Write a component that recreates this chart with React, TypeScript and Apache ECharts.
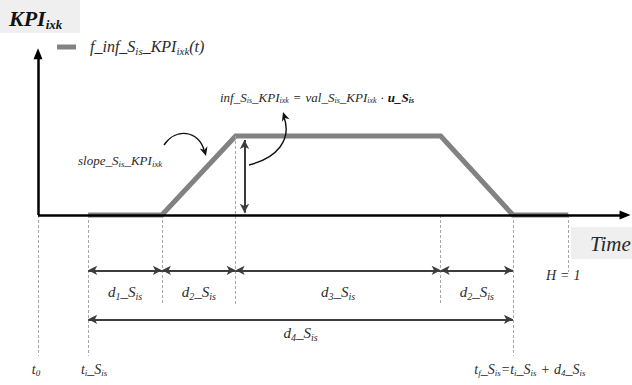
import React, { useEffect, useRef } from "react";
import * as echarts from "echarts";

// ---------- data (time axis in abstract units, KPI influence level) ----------
const T0 = 0;
const T_START = 0.68; // t_i_S_is
const DURATIONS = [1.0, 1.0, 2.78, 0.98]; // d1_S_is, d2_S_is (rise), d3_S_is, d2_S_is (fall)
const DIM_NAMES = ["1", "2", "3", "2"]; // subscripts of the d labels
const HORIZON = 7.19; // H = 1
const INF_VALUE = 1; // inf_S_is_KPI_ixk
const INF_ARROW_X = 2.8;
const X_MAX = 8;
const Y_MIN = -2.1;
const Y_MAX = 2.1;
const DIM_ROW_Y = -0.7;
const D4_ROW_Y = -1.32;
const GUIDE_SHORT = -1.14;
const GUIDE_LONG = -1.78;
const GUIDE_H = -0.72;

const SERIF = "'Liberation Serif', 'DejaVu Serif', serif";
const TXT = "#2a2a2a";
const GRAY = "#828282";

const breaks: number[] = [T_START];
DURATIONS.forEach((d) => breaks.push(breaks[breaks.length - 1] + d));
const levels = [0, 0, INF_VALUE, INF_VALUE, 0];
const profile: number[][] = breaks.map((b, i) => [b, levels[i]]);
profile.push([HORIZON, 0]);

const rich = (size: number, sub = Math.round(size * 0.66)) => ({
  m: { fontSize: size, fontStyle: "italic", fontFamily: SERIF, fill: TXT },
  s: { fontSize: sub, fontStyle: "italic", fontFamily: SERIF, fill: TXT, padding: [Math.round(size * 0.55), 0, 0, 0] },
  eq: { fontSize: size, fontStyle: "italic", fontFamily: SERIF, fill: TXT, padding: [0, 4, 0, 4] },
  b: { fontSize: size, fontStyle: "italic", fontWeight: "bold", fontFamily: SERIF, fill: "#111" },
  bs: { fontSize: sub, fontStyle: "italic", fontWeight: "bold", fontFamily: SERIF, fill: "#111", padding: [Math.round(size * 0.55), 0, 0, 0] },
});

function arrowHead(tip: number[], from: number[], len = 9, half = 4) {
  const dx = tip[0] - from[0];
  const dy = tip[1] - from[1];
  const l = Math.hypot(dx, dy);
  const ux = dx / l;
  const uy = dy / l;
  const bx = tip[0] - ux * len;
  const by = tip[1] - uy * len;
  const nx = tip[0] - ux * len * 0.7;
  const ny = tip[1] - uy * len * 0.7;
  return [
    tip,
    [bx - uy * half, by + ux * half],
    [nx, ny],
    [bx + uy * half, by - ux * half],
  ];
}

export default function App() {
  const ref = useRef<HTMLDivElement>(null);
  useEffect(() => {
    document.body.style.margin = "0";
    const chart = echarts.init(ref.current!, null, { renderer: "svg" });
    const seg = (a: number[], b: number[]) => [{ coord: a }, { coord: b }];

    const guides = [
      seg([T0, 0], [T0, GUIDE_LONG]),
      seg([breaks[0], 0], [breaks[0], GUIDE_LONG]),
      seg([breaks[1], 0], [breaks[1], GUIDE_SHORT]),
      seg([breaks[2], INF_VALUE], [breaks[2], GUIDE_SHORT]),
      seg([breaks[3], 0], [breaks[3], GUIDE_SHORT]),
      seg([breaks[4], 0], [breaks[4], GUIDE_LONG]),
      seg([HORIZON, 0], [HORIZON, GUIDE_H]),
    ];
    const dims = [0, 1, 2, 3].map((i) => seg([breaks[i], DIM_ROW_Y], [breaks[i + 1], DIM_ROW_Y]));
    dims.push(seg([breaks[0], D4_ROW_Y], [breaks[4], D4_ROW_Y]));
    dims.push(seg([INF_ARROW_X, 0.03], [INF_ARROW_X, INF_VALUE * 0.95]));

    chart.setOption({
      animation: false,
      grid: { left: 38, right: 4, top: 49, bottom: 4 },
      xAxis: { type: "value", min: 0, max: X_MAX, show: false },
      yAxis: { type: "value", min: Y_MIN, max: Y_MAX, show: false },
      series: [
        {
          type: "line",
          data: [],
          z: 1,
          markLine: {
            silent: true,
            symbol: ["none", "none"],
            label: { show: false },
            lineStyle: { color: "#a8a8a8", width: 1, type: [3, 2] },
            data: guides,
          },
        },
        {
          type: "line",
          data: [],
          z: 2,
          markLine: {
            silent: true,
            symbol: ["none", "triangle"],
            symbolSize: [9, 11],
            label: { show: false },
            lineStyle: { color: "#000", width: 2.5, type: "solid" },
            data: [seg([T0, 0], [T0, Y_MAX - 0.06]), seg([T0, 0], [X_MAX - 0.04, 0])],
          },
        },
        {
          type: "line",
          data: profile,
          z: 3,
          showSymbol: false,
          symbol: "none",
          lineStyle: { color: GRAY, width: 5, join: "miter" },
          silent: true,
        },
        {
          type: "line",
          data: [],
          z: 4,
          markLine: {
            silent: true,
            symbol: ["arrow", "arrow"],
            symbolSize: [7, 9],
            label: { show: false },
            lineStyle: { color: "#3c3c3c", width: 2, type: "solid" },
            itemStyle: { color: "#111" },
            data: dims,
          },
        },
      ],
    });

    const px = (x: number, y: number) => chart.convertToPixel({ gridIndex: 0 }, [x, y]) as number[];
    const labY = px(0, DIM_ROW_Y)[1] + 22;
    const d4Y = px(0, D4_ROW_Y)[1] + 14;
    const tY = 369;

    const texts: any[] = [];
    const addText = (x: number, y: number, text: string, size: number, align = "center", sub?: number) =>
      texts.push({
        type: "text",
        z: 10,
        style: { x, y, text, rich: rich(size, sub), align, verticalAlign: "middle", fill: TXT },
      });

    DIM_NAMES.forEach((n, i) => {
      const cx = (px(breaks[i], 0)[0] + px(breaks[i + 1], 0)[0]) / 2;
      addText(cx, labY, `{m|d}{s|${n}}{m|_S}{s|is}`, 15);
    });
    addText((px(breaks[0], 0)[0] + px(breaks[4], 0)[0]) / 2, d4Y, "{m|d}{s|4}{m|_S}{s|is}", 15);
    addText(px(HORIZON, 0)[0] - 5, px(0, GUIDE_H)[1] + 4, "{m|H}{eq|=}{m|1}", 14);
    addText(px(T0, 0)[0] - 2, tY, "{m|t}{s|0}", 14);
    addText(px(breaks[0], 0)[0] + 6, tY, "{m|t}{s|i}{m|_S}{s|is}", 14);
    addText(px(breaks[4], 0)[0] + 17, tY, "{m|t}{s|f}{m|_S}{s|is}{m|=t}{s|i}{m|_S}{s|is}{eq|+}{m|d}{s|4}{m|_S}{s|is}", 14);
    addText(220, 97, "{m|inf_S}{s|is}{m|_KPI}{s|ixk}{eq|=}{m|val_S}{s|is}{m|_KPI}{s|ixk}{eq|·}{b|u_S}{bs|is}", 13, "left", 8);
    addText(78, 160, "{m|slope_S}{s|is}{m|_KPI}{s|ixk}", 13, "left", 9);
    addText(90, 46, "{m|f_inf_S}{s|is}{m|_KPI}{s|ixk}{m|(t)}", 16, "left", 11);
    addText(9, 18, "{b|KPI}{bs|ixk}", 22, "left", 13);
    addText(590, 244, "{m|Time}", 21, "left");

    const c1 = { x1: 164, y1: 145, cpx1: 176, cpy1: 127, cpx2: 199, cpy2: 131, x2: 204, y2: 150 };
    const c2 = { x1: 249, y1: 165, cpx1: 277, cpy1: 158, cpx2: 292, cpy2: 140, x2: 284, y2: 117 };

    chart.setOption({
      graphic: [
        { type: "rect", z: 0, shape: { x: 0, y: 0, width: 80, height: 33 }, style: { fill: "#efefef" } },
        { type: "rect", z: 0, shape: { x: 571, y: 227, width: 65, height: 32 }, style: { fill: "#efefef" } },
        { type: "line", z: 5, shape: { x1: 57, y1: 47, x2: 76, y2: 47 }, style: { stroke: GRAY, lineWidth: 5 } },
        { type: "bezierCurve", z: 5, shape: c1, style: { stroke: "#111", lineWidth: 1.4, fill: "none" } },
        { type: "polygon", z: 5, shape: { points: arrowHead([206, 156], [c1.cpx2, c1.cpy2]) }, style: { fill: "#111" } },
        { type: "bezierCurve", z: 5, shape: c2, style: { stroke: "#111", lineWidth: 1.4, fill: "none" } },
        { type: "polygon", z: 5, shape: { points: arrowHead([283, 112], [c2.cpx2, c2.cpy2]) }, style: { fill: "#111" } },
        ...texts,
      ],
    });
    return () => chart.dispose();
  }, []);
  return <div ref={ref} style={{ width: 632, height: 385 }} />;
}
